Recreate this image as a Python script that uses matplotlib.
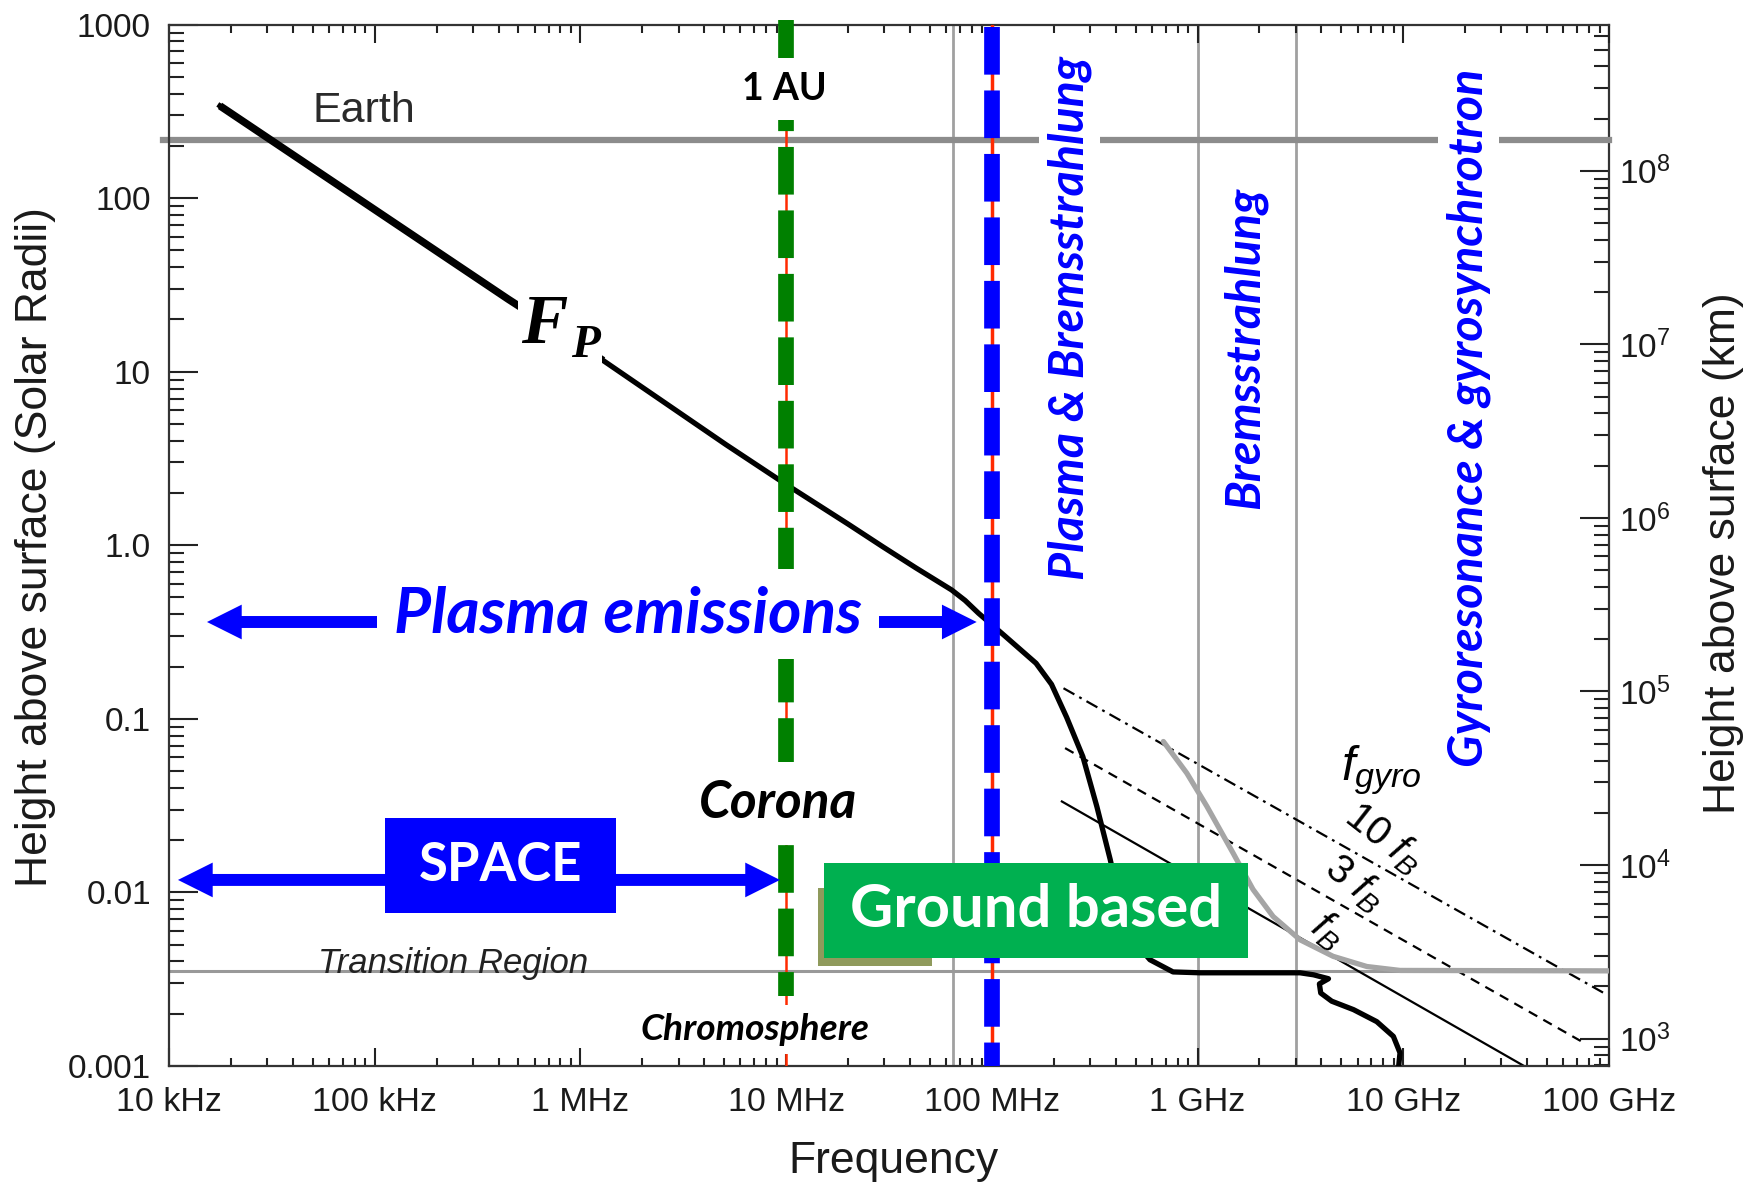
import matplotlib
matplotlib.use('Agg')
import matplotlib.pyplot as plt
from matplotlib.patches import Rectangle, FancyArrowPatch, ArrowStyle
from matplotlib.ticker import FixedLocator, FixedFormatter, LogLocator, NullFormatter
import numpy as np

plt.rcParams['font.family'] = ['Liberation Sans', 'DejaVu Sans']
plt.rcParams['mathtext.fontset'] = 'custom'
plt.rcParams['mathtext.rm'] = 'Liberation Sans'
plt.rcParams['mathtext.it'] = 'Liberation Sans:italic'
plt.rcParams['lines.scale_dashes'] = False

R_SUN_KM = 6.96e5
ANNOT_FONT = ['Lato', 'Open Sans', 'DejaVu Sans']
BLUE = '#0000ff'

# axes
freq_ticks = [1e4, 1e5, 1e6, 1e7, 1e8, 1e9, 1e10, 1e11]
freq_labels = ['10 kHz', '100 kHz', '1 MHz', '10 MHz', '100 MHz', '1 GHz', '10 GHz', '100 GHz']
height_ticks = [1e-3, 1e-2, 1e-1, 1, 10, 100, 1000]
height_labels = ['0.001', '0.01', '0.1', '1.0', '10', '100', '1000']
km_ticks = [1e3, 1e4, 1e5, 1e6, 1e7, 1e8]

# plasma frequency F_P (Hz) vs height above surface (solar radii)
fp_freq = [1.77e4, 4.45e5, 1.29e6, 5.1e6, 9.89e6, 2.01e7, 2.94e7, 4.27e7, 6.37e7,
           7.41e7, 8.61e7, 1.15e8, 1.64e8, 1.95e8, 2.31e8, 2.77e8, 3.24e8, 3.76e8,
           4.35e8, 5.0e8, 5.87e8, 7.6e8, 1.03e9, 3.15e9, 3.66e9, 4.33e9, 3.91e9,
           3.97e9, 4.49e9, 5.73e9, 7.43e9, 8.95e9, 9.64e9, 9.46e9]
fp_height = [340, 26.2, 11.6, 3.8, 2.26, 1.32, 0.983, 0.741, 0.553,
             0.481, 0.406, 0.302, 0.209, 0.158, 0.102, 0.0605, 0.0312, 0.0155,
             0.00724, 0.0051, 0.00409, 0.00348, 0.00344, 0.00344, 0.00335, 0.00318, 0.00297,
             0.00263, 0.00236, 0.00211, 0.00180, 0.00148, 0.00119, 0.00095]

# gyro-frequency curve
gyro_freq = [6.82e8, 8.87e8, 1.11e9, 1.49e9, 1.86e9, 2.33e9, 3.15e9, 4.56e9, 6.65e9, 9.64e9, 1e11]
gyro_height = [0.0740, 0.0486, 0.0313, 0.0168, 0.0104, 0.00726, 0.00533, 0.00428, 0.00374, 0.00355, 0.00353]

# harmonics of f_B
fb1_freq, fb1_height = [2.19e8, 3.86e10], [0.0334, 0.001]
fb3_freq, fb3_height = [2.27e8, 7.71e10], [0.0678, 0.00134]
fb10_freq, fb10_height = [2.23e8, 9.55e10], [0.150, 0.00261]

earth_height = 215
transition_height = 0.0035
grid_freqs = [6.5e7, 1e9, 3e9]
space_limit_freq = 1e7
ground_limit_freq = 1e8

fig = plt.figure(figsize=(17.51, 11.87), dpi=100)
ax = fig.add_axes([0.0965, 0.102, 0.8224, 0.8773])
ax.set_xscale('log')
ax.set_yscale('log')
ax.set_xlim(freq_ticks[0], freq_ticks[-1])
ax.set_ylim(height_ticks[0], height_ticks[-1])

# reference lines
for f in grid_freqs:
    ax.axvline(f, color='#a0a0a0', lw=2.0, zorder=1)
ax.axhline(earth_height, xmin=-0.004, color='#8c8c8c', lw=4.5, clip_on=False, zorder=1.5)
ax.axhline(transition_height, color='#999999', lw=2.2, zorder=1.5)

# f_B harmonics and gyro curve
ax.plot(fb10_freq, fb10_height, color='k', lw=1.6, dashes=[9, 4, 2, 4], zorder=2)
ax.plot(fb3_freq, fb3_height, color='k', lw=1.6, dashes=[7, 5], zorder=2)
ax.plot(fb1_freq, fb1_height, color='k', lw=1.6, zorder=2)
ax.plot(gyro_freq, gyro_height, color='#a5a5a5', lw=3.8, solid_capstyle='round', zorder=2.5)

# plasma frequency curve, heavier in the outer corona
ax.plot(fp_freq, fp_height, color='k', lw=3.8, solid_joinstyle='round', zorder=3)
n_outer = sum(1 for f in fp_freq if f <= 1.3e6)
ax.plot(fp_freq[:n_outer], fp_height[:n_outer], color='k', lw=5.4, solid_capstyle='butt', zorder=3)

# space / ground limits
xt = ax.get_xaxis_transform()
ax.plot([space_limit_freq] * 2, [1.0, 0.0], color='#ff2a00', lw=1.8, transform=xt, zorder=3.5)
ax.plot([space_limit_freq] * 2, [1.004, 0.0675], color='#008000', lw=11.3,
        dashes=[34.3, 11.4], transform=xt, clip_on=False, zorder=4)
ax.plot([ground_limit_freq] * 2, [1.0, 0.0], color='#ff2a00', lw=2.5, transform=xt, zorder=3.5)
ax.plot([ground_limit_freq] * 2, [0.9977, 0.0], color=BLUE, lw=11.3,
        dashes=[34.3, 11.4], transform=xt, zorder=4)

ta = ax.transAxes

# labels on the curves
ax.text(0.0998, 0.9169, 'Earth', transform=ta, ha='left', va='center', fontsize=31, color='#2a2a2a')
ax.text(0.1975, 0.0982, 'Transition Region', transform=ta, ha='center', va='center',
        fontsize=25, style='italic', color='#222222', zorder=2)
ax.text(0.2603, 0.7106, 'F', transform=ta, ha='center', va='center', fontsize=50,
        family='Liberation Serif', weight='bold', style='italic',
        bbox=dict(fc='white', ec='none', pad=2), zorder=5)
ax.text(0.2889, 0.6914, 'P', transform=ta, ha='center', va='center', fontsize=34,
        family='Liberation Serif', weight='bold', style='italic',
        bbox=dict(fc='white', ec='none', pad=2), zorder=5)
ax.text(0.8419, 0.2838, r'$f_{gyro}$', transform=ta, ha='center', va='center', fontsize=35, zorder=5)
ax.text(0.8435, 0.2194, r'$10\ f_B$', transform=ta, ha='center', va='center', fontsize=29,
        rotation=-38, zorder=5)
ax.text(0.8233, 0.1754, r'$3\ f_B$', transform=ta, ha='center', va='center', fontsize=29,
        rotation=-38, zorder=5)
ax.text(0.8047, 0.1304, r'$f_B$', transform=ta, ha='center', va='center', fontsize=29,
        rotation=-38, zorder=5)

ax.text(0.4271, 0.9379, '1 AU', transform=ta, ha='center', va='center', fontsize=27,
        family=ANNOT_FONT, weight='bold', bbox=dict(fc='white', ec='none', pad=10), zorder=6)
ax.text(0.4231, 0.2516, 'Corona', transform=ta, ha='center', va='center', fontsize=37,
        family=ANNOT_FONT, weight='bold', style='italic',
        bbox=dict(fc='white', ec='none', pad=13), zorder=6)
ax.text(0.4069, 0.0350, 'Chromosphere', transform=ta, ha='center', va='center', fontsize=26.7,
        family=ANNOT_FONT, weight='bold', style='italic',
        bbox=dict(fc='white', ec='none', pad=6), zorder=6)

# emission mechanisms
for x, y, s in [(0.6254, 0.7180, 'Plasma & Bremsstrahlung'),
                (0.7472, 0.6891, 'Bremsstrahlung'),
                (0.9024, 0.6226, 'Gyroresonance & gyrosynchrotron')]:
    ax.text(x, y, s, transform=ta, rotation=90, ha='center', va='center', fontsize=34.8,
            family=ANNOT_FONT, weight='bold', style='italic', color=BLUE,
            bbox=dict(fc='white', ec='none', pad=6), zorder=5)


def arrow(p0, p1):
    style = ArrowStyle.Simple(head_length=25, head_width=25, tail_width=8.6)
    ax.add_patch(FancyArrowPatch(p0, p1, arrowstyle=style, mutation_scale=1, transform=ta,
                                 fc=BLUE, ec='none', shrinkA=0, shrinkB=0, clip_on=False, zorder=6))


# plasma emissions range
arrow((0.3188, 0.4263), (0.0264, 0.4263))
arrow((0.3188, 0.4263), (0.5609, 0.4263))
ax.text(0.3188, 0.434, 'Plasma emissions', transform=ta, ha='center', va='center', fontsize=46,
        family=ANNOT_FONT, weight='bold', style='italic', color=BLUE,
        bbox=dict(fc='white', ec='none', pad=12), zorder=7)

# space-based range
arrow((0.2302, 0.1786), (0.00625, 0.1786))
arrow((0.2302, 0.1786), (0.4243, 0.1786))
ax.add_patch(Rectangle((0.15, 0.147), 0.1604, 0.091, transform=ta, fc=BLUE, ec='none', zorder=7))
ax.text(0.2302, 0.1925, 'SPACE', transform=ta, ha='center', va='center', fontsize=38,
        family=ANNOT_FONT, weight='bold', color='white', zorder=8)

# ground-based range
ax.add_patch(Rectangle((0.4507, 0.096), 0.0792, 0.075, transform=ta, fc='#8f9a5c', ec='none', zorder=6.5))
ax.add_patch(Rectangle((0.4549, 0.1037), 0.2944, 0.0912, transform=ta, fc='#00b050', ec='none', zorder=7))
ax.text(0.6021, 0.1493, 'Ground based', transform=ta, ha='center', va='center', fontsize=43,
        family=ANNOT_FONT, weight='bold', color='white', zorder=8)

# ticks and labels
ax.xaxis.set_major_locator(FixedLocator(freq_ticks))
ax.xaxis.set_major_formatter(FixedFormatter(freq_labels))
ax.xaxis.set_minor_locator(LogLocator(base=10, subs=np.arange(2, 10), numticks=20))
ax.xaxis.set_minor_formatter(NullFormatter())
ax.yaxis.set_major_locator(FixedLocator(height_ticks))
ax.yaxis.set_major_formatter(FixedFormatter(height_labels))
ax.yaxis.set_minor_locator(LogLocator(base=10, subs=np.arange(2, 10), numticks=20))
ax.yaxis.set_minor_formatter(NullFormatter())

ax.tick_params(axis='x', which='both', direction='in', top=True, bottom=True, width=1.5,
               color='#222222', labelsize=24.5, labelcolor='#1a1a1a', pad=15)
ax.tick_params(axis='x', which='major', length=13)
ax.tick_params(axis='x', which='minor', length=6)
ax.tick_params(axis='y', which='both', direction='in', left=True, right=False, width=1.5,
               color='#222222', labelsize=24, labelcolor='#1a1a1a', pad=13)
ax.tick_params(axis='y', which='major', length=21)
ax.tick_params(axis='y', which='minor', length=11)
for side in ['left', 'bottom', 'top']:
    ax.spines[side].set_linewidth(1.6)
    ax.spines[side].set_color('#333333')
ax.spines['right'].set_visible(False)

sec = ax.secondary_yaxis('right', functions=(lambda r: r * R_SUN_KM, lambda k: k / R_SUN_KM))
sec.yaxis.set_major_locator(FixedLocator(km_ticks))
sec.yaxis.set_minor_locator(LogLocator(base=10, subs=np.arange(2, 10), numticks=20))
sec.yaxis.set_minor_formatter(NullFormatter())
sec.tick_params(axis='y', which='both', direction='in', width=1.5, color='#222222',
                labelsize=24, labelcolor='#1a1a1a', pad=7)
sec.tick_params(axis='y', which='major', length=21)
sec.tick_params(axis='y', which='minor', length=11)
sec.spines['right'].set_linewidth(1.6)
sec.spines['right'].set_color('#333333')

ax.set_xlabel('Frequency', fontsize=32, color='#1a1a1a')
ax.xaxis.set_label_coords(0.503, -0.072)
ax.set_ylabel('Height above surface (Solar Radii)', fontsize=32, color='#1a1a1a')
ax.yaxis.set_label_coords(-0.0785, 0.498)
sec.set_ylabel('Height above surface (km)', fontsize=32, color='#1a1a1a')
sec.yaxis.set_label_coords(1.065, 0.4928, transform=ax.transAxes)

fig.savefig('out.png', dpi=100, facecolor='white')
